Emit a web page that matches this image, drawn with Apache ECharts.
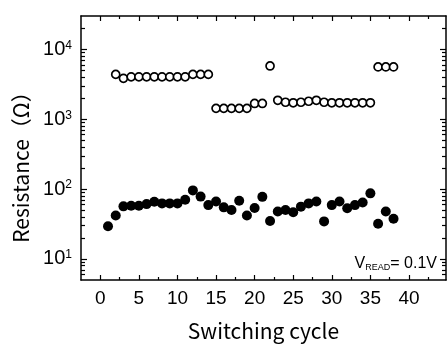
<!DOCTYPE html>
<html>
<head>
<meta charset="utf-8">
<script src="https://cdn.jsdelivr.net/npm/echarts@6/dist/echarts.min.js"></script>
<style>
html, body { margin: 0; padding: 0; background: #fff; }
#chart { width: 447px; height: 347px; }
</style>
</head>
<body>
<div id="chart"></div>
<script>
// switching cycles
var lrsCycles = [1, 2, 3, 4, 5, 6, 7, 8, 9, 10, 11, 12, 13, 14, 15, 16, 17, 18, 19, 20,
    21, 22, 23, 24, 25, 26, 27, 28, 29, 30, 31, 32, 33, 34, 35, 36, 37, 38];
// low resistance state (filled)
var lrsValues = [29.4, 41.9, 56.6, 57.9, 57.9, 61.0, 65.9, 62.4, 62.4, 62.4, 70.3, 95.8, 78.1, 59.0, 66.5, 54.8, 50.2, 68.1, 41.9, 53.6,
    77.4, 34.9, 47.8, 50.2, 46.7, 56.1, 62.4, 66.5, 34.5, 59.0, 66.5, 53.1, 59.0, 64.4, 86.9, 32.0, 47.8, 37.6];
var hrsCycles = [2, 3, 4, 5, 6, 7, 8, 9, 10, 11, 12, 13, 14, 15, 16, 17, 18, 19, 20,
    21, 22, 23, 24, 25, 26, 27, 28, 29, 30, 31, 32, 33, 34, 35, 36, 37, 38];
// high resistance state (open)
var hrsValues = [4380, 3850, 4040, 4040, 4040, 4040, 4040, 4040, 4040, 4040, 4380, 4380, 4380, 1430, 1430, 1430, 1430, 1430, 1680,
    1680, 5780, 1866, 1750, 1718, 1750, 1807, 1866, 1750, 1718, 1718, 1718, 1718, 1718, 1718, 5600, 5600, 5600];

var xMajorTicks = [0, 5, 10, 15, 20, 25, 30, 35, 40];
var xMinorTicks = [2.5, 7.5, 12.5, 17.5, 22.5, 27.5, 32.5, 37.5, 42.5];
var yMajorTicks = [10, 100, 1000, 10000];
var yMinorTicks = [6, 7, 8, 9, 20, 30, 40, 50, 60, 70, 80, 90, 200, 300, 400, 500, 600, 700, 800, 900,
    2000, 3000, 4000, 5000, 6000, 7000, 8000, 9000, 20000];

var myChart = echarts.init(document.getElementById('chart'));

function pair(xs, ys) {
    return xs.map(function (x, i) { return [x, ys[i]]; });
}

function xAx(pos, ticks, len, main) {
    return {
        type: 'value', position: pos, min: -2.5, max: 44.8,
        splitLine: { show: false },
        axisLine: { show: main, onZero: false, lineStyle: { color: '#000', width: 1.5 } },
        axisTick: { show: true, inside: true, length: len, customValues: ticks, lineStyle: { color: '#000', width: 1.2 } },
        axisLabel: {
            show: main && pos === 'bottom', customValues: xMajorTicks, margin: 9,
            color: '#000', fontSize: 19, fontFamily: 'Liberation Sans'
        }
    };
}

function yAx(pos, ticks, len, main) {
    return {
        type: 'log', position: pos, min: 5, max: 30000, logBase: 10,
        splitLine: { show: false },
        axisLine: { show: main, onZero: false, lineStyle: { color: '#000', width: 1.5 } },
        axisTick: { show: true, inside: true, length: len, customValues: ticks, lineStyle: { color: '#000', width: 1.2 } },
        axisLabel: {
            show: main && pos === 'left', customValues: yMajorTicks, margin: 9,
            formatter: function (v) {
                var p = Math.round(Math.log10(v));
                return '{b|10}{s|' + p + '}';
            },
            rich: {
                b: { fontSize: 20, color: '#000', fontFamily: 'Liberation Sans' },
                s: { fontSize: 12, color: '#000', fontFamily: 'Liberation Sans', verticalAlign: 'top' }
            }
        }
    };
}

var option = {
    animation: false,
    backgroundColor: '#fff',
    grid: { left: 81, right: 1, top: 16, bottom: 64, containLabel: false },
    xAxis: [
        Object.assign(xAx('bottom', xMajorTicks, 5, true), {
            name: 'Switching cycle', nameLocation: 'middle', nameGap: 41,
            nameTextStyle: { color: '#000', fontSize: 21, fontFamily: 'Noto Sans CJK JP' }
        }),
        xAx('bottom', xMinorTicks, 3, false),
        xAx('top', xMajorTicks, 5, true),
        xAx('top', xMinorTicks, 3, false)
    ],
    yAxis: [
        Object.assign(yAx('left', yMajorTicks, 6, true), {
            name: 'Resistance（Ω）', nameLocation: 'middle', nameGap: 49,
            nameTextStyle: { color: '#000', fontSize: 21, fontFamily: 'Noto Sans CJK JP', padding: [0, 28, 0, 0] }
        }),
        yAx('left', yMinorTicks, 4, false),
        yAx('right', yMajorTicks, 6, true),
        yAx('right', yMinorTicks, 4, false)
    ],
    graphic: [{
        type: 'text', right: 10, top: 256,
        style: {
            text: '{v|V}{sub|READ}{v|= 0.1V}',
            rich: {
                v: { fontSize: 16, fill: '#000', fontFamily: 'Liberation Sans' },
                sub: { fontSize: 9, fill: '#000', fontFamily: 'Liberation Sans', verticalAlign: 'bottom' }
            }
        }
    }],
    series: [
        {
            name: 'HRS', type: 'scatter', xAxisIndex: 0, yAxisIndex: 0,
            symbol: 'circle', symbolSize: 8,
            itemStyle: { color: '#fff', borderColor: '#000', borderWidth: 1.7, opacity: 1 },
            data: pair(hrsCycles, hrsValues)
        },
        {
            name: 'LRS', type: 'scatter', xAxisIndex: 0, yAxisIndex: 0,
            symbol: 'circle', symbolSize: 10,
            itemStyle: { color: '#000', opacity: 1 },
            data: pair(lrsCycles, lrsValues)
        }
    ]
};
myChart.setOption(option);
window.addEventListener('resize', function () { myChart.resize(); });
</script>
</body>
</html>
